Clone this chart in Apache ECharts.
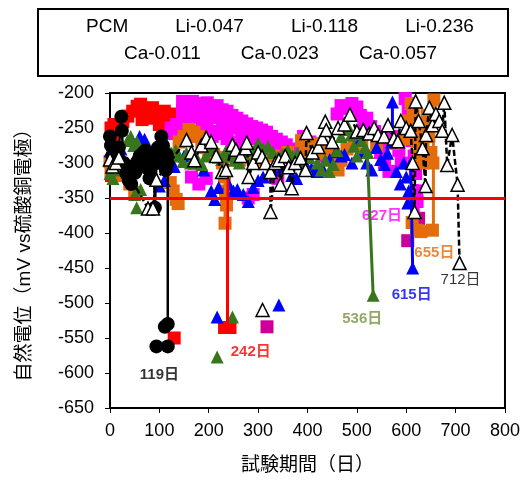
<!DOCTYPE html>
<html>
<head>
<meta charset="utf-8">
<script src="https://cdn.jsdelivr.net/npm/echarts@6.0.0/dist/echarts.min.js"></script>
<style>
  html, body { margin: 0; padding: 0; background: #fff; }
  #chart { width: 523px; height: 480px; }
</style>
</head>
<body>
<div id="chart"></div>
<script>
// [試験日数, 自然電位 mV]
var pcm = [[0,-262],[2,-275],[5,-290],[9,-300],[14,-285],[18,-278],[23,-234],[24,-254],[28,-300],[33,-315],[38,-325],[43,-330],[47,-305],[51,-314],[55,-298],[60,-290],[64,-300],[68,-285],[72,-282],[76,-308],[80,-322],[84,-300],[88,-292],[91,-364],[94,-300],[97,-278],[100,-290],[104,-262],[107,-275],[110,-298],[113,-310],[115,-288],[117,-300],[117,-530]];
var pcmOdd = [[111,-534],[94,-562],[117,-562]];

var li047 = [[2,-250],[4,-263],[3,-318],[8,-245],[16,-248],[26,-241],[36,-233],[46,-226],[55,-219],[62,-216],[65,-238],[70,-222],[78,-224],[80,-236],[86,-221],[94,-229],[100,-245],[102,-228],[110,-226],[115,-240],[118,-231],[125,-248],[126,-230],[131,-234],[130,-550],[232,-535],[243,-535]];
var li047Drop = [[238,-305],[238,-535]];

var li118 = [[124,-250],[124,-258],[135,-245],[147,-212],[147,-225],[147,-240],[157,-215],[157,-232],[157,-250],[167,-212],[167,-228],[167,-262],[177,-215],[177,-235],[177,-255],[187,-218],[187,-230],[187,-245],[197,-214],[197,-228],[197,-250],[207,-220],[207,-235],[207,-262],[217,-218],[217,-232],[217,-255],[227,-224],[227,-240],[227,-258],[237,-226],[237,-245],[237,-265],[247,-232],[247,-248],[247,-270],[257,-236],[257,-250],[257,-272],[267,-240],[267,-255],[267,-275],[277,-244],[277,-258],[287,-248],[287,-262],[297,-250],[297,-265],[307,-253],[307,-268],[317,-256],[317,-272],[327,-262],[327,-278],[337,-266],[337,-282],[347,-270],[347,-285],[357,-274],[357,-288],[367,-280],[367,-292],[377,-285],[165,-320],[180,-330],[195,-322],[280,-350],[290,-345],[330,-318],[340,-322],[392,-262],[405,-270],[418,-282],[430,-290],[460,-230],[468,-218],[478,-222],[490,-215],[500,-220],[507,-232],[514,-242],[520,-236],[528,-248],[536,-255],[545,-262],[548,-285],[556,-300],[565,-312],[560,-270],[574,-262],[585,-282],[590,-300],[598,-208],[604,-225],[608,-245],[612,-268],[616,-290],[619,-315],[621,-340],[622,-355]];
var li118Odd = [[318,-534],[603,-411],[625,-379]];
var li118Drop = [[622,-330],[625,-379]];

var li236 = [[0,-298],[2,-312],[4,-302],[12,-318],[40,-330],[50,-342],[122,-328],[128,-340],[134,-352],[138,-358],[140,-270],[150,-262],[160,-252],[170,-256],[178,-262],[186,-270],[194,-278],[200,-284],[210,-288],[220,-292],[228,-300],[232,-320],[234,-340],[236,-360],[233,-386],[250,-290],[262,-296],[275,-290],[300,-295],[330,-290],[360,-285],[388,-268],[396,-278],[404,-282],[412,-272],[420,-280],[428,-275],[436,-286],[448,-288],[455,-300],[462,-310],[468,-296],[480,-280],[495,-275],[510,-268],[540,-276],[575,-272],[595,-265],[605,-240],[610,-215],[614,-228],[618,-250],[622,-270],[626,-290],[630,-300],[634,-280],[638,-250],[642,-232],[646,-262],[650,-285],[654,-300],[656,-210],[612,-385],[621,-396],[630,-398],[653,-396]];
var li236Drop1 = [[233,-300],[233,-386]];
var li236Drop2 = [[655,-210],[655,-396]];

var ca011 = [[0,-283],[3,-292],[8,-300],[15,-288],[22,-280],[35,-300],[60,-262],[70,-266],[85,-295],[100,-333],[110,-325],[130,-305],[150,-290],[170,-300],[190,-310],[205,-340],[212,-352],[220,-335],[240,-330],[250,-340],[258,-338],[270,-345],[280,-355],[290,-335],[300,-325],[310,-320],[330,-310],[350,-305],[368,-318],[378,-322],[395,-300],[408,-308],[420,-312],[432,-310],[445,-295],[458,-284],[468,-290],[475,-288],[490,-300],[505,-268],[512,-285],[520,-300],[530,-310],[540,-278],[548,-295],[556,-302],[562,-286],[570,-270],[580,-312],[588,-330],[595,-300],[600,-320],[605,-340],[609,-300],[603,-357],[572,-213],[217,-520],[342,-503],[613,-450]];
var ca011Drop1 = [[572,-213],[572,-258]];
var ca011Drop2 = [[609,-300],[613,-450]];

var ca023 = [[0,-315],[3,-305],[6,-322],[12,-300],[20,-310],[28,-295],[36,-268],[42,-262],[48,-275],[55,-270],[50,-345],[54,-364],[62,-338],[70,-290],[80,-305],[92,-295],[100,-272],[108,-265],[116,-278],[125,-286],[133,-282],[140,-290],[148,-298],[155,-286],[163,-300],[170,-292],[178,-296],[186,-302],[194,-290],[202,-282],[210,-280],[218,-288],[226,-295],[234,-284],[242,-290],[252,-296],[262,-300],[272,-288],[282,-276],[292,-282],[300,-272],[310,-280],[320,-276],[330,-285],[340,-292],[350,-288],[360,-282],[370,-290],[380,-286],[388,-296],[396,-306],[404,-292],[412,-284],[420,-300],[428,-310],[436,-296],[444,-312],[452,-302],[460,-282],[468,-262],[476,-252],[482,-248],[488,-260],[494,-276],[500,-290],[505,-258],[510,-268],[516,-278],[522,-285],[217,-577],[248,-520],[533,-489]];
var ca023Drop = [[521,-285],[533,-489]];

var ca057 = [[0,-295],[5,-305],[12,-300],[18,-292],[77,-365],[87,-365],[94,-324],[155,-267],[165,-285],[171,-296],[185,-275],[195,-264],[205,-270],[215,-290],[227,-313],[235,-310],[248,-274],[255,-281],[265,-290],[275,-279],[277,-271],[281,-320],[290,-300],[300,-285],[308,-291],[315,-300],[325,-313],[325,-370],[335,-300],[342,-296],[345,-331],[355,-290],[362,-306],[368,-336],[375,-300],[386,-293],[396,-310],[398,-257],[410,-285],[422,-277],[430,-265],[436,-241],[438,-253],[450,-270],[462,-250],[475,-245],[486,-231],[500,-255],[513,-253],[525,-258],[535,-250],[543,-260],[555,-262],[563,-246],[575,-265],[583,-269],[589,-240],[600,-250],[609,-254],[613,-300],[617,-370],[619,-212],[625,-240],[633,-279],[639,-333],[640,-260],[647,-221],[653,-246],[660,-230],[667,-240],[673,-254],[677,-214],[683,-303],[693,-260],[704,-331],[708,-443]];
var ca057Odd = [[309,-510]];

var thresholdMv = -350;

var noteAt = [[100,-603],[285,-570],[551,-376],[657,-429],[710,-467],[611,-489],[511,-523]];
var noteText = ['119日','242日','627日','655日','712日','615日','536日'];

var xTicks = [0, 800, 100];
var yTicks = [-650, -200, 50];

var font = "'Liberation Sans', 'Noto Sans CJK JP', sans-serif";
var noteStyle = {
  '119日': ['#000000', 'bold'],
  '242日': ['#FF0000', 'bold'],
  '627日': ['#FF00FF', 'bold'],
  '655日': ['#E46C0A', 'bold'],
  '712日': ['#000000', 'normal'],
  '615日': ['#0000FF', 'bold'],
  '536日': ['#76923C', 'bold']
};

function dots(name, color, data, symbol, size) {
  return {
    name: name, type: 'scatter', silent: true,
    symbol: symbol, symbolSize: size,
    itemStyle: { color: color, opacity: 1 },
    data: data
  };
}
function drop(name, color, data, width) {
  return {
    name: name, type: 'line', silent: true, symbol: 'none',
    lineStyle: { color: color, width: width || 3 },
    data: data
  };
}

var dom = document.getElementById('chart');
var myChart = echarts.init(dom);

var notes = [];
for (var i = 0; i < noteAt.length; i++) {
  var st = noteStyle[noteText[i]];
  notes.push({
    name: noteText[i], value: noteAt[i],
    label: { color: st[0], fontWeight: st[1] }
  });
}

var option = {
  animation: false,
  backgroundColor: '#fff',
  textStyle: { fontFamily: font },
  graphic: [{
    type: 'rect', silent: true,
    shape: { x: 38, y: 9, width: 470, height: 67 },
    style: { fill: 'none', stroke: '#000', lineWidth: 2 }
  }],
  legend: [{
    data: ['PCM', 'Li-0.047', 'Li-0.118', 'Li-0.236'],
    left: 81, top: 17, padding: 0,
    icon: 'none', itemWidth: 0, itemHeight: 19, itemGap: 42,
    selectedMode: false,
    textStyle: { color: '#000', fontSize: 19, fontFamily: font }
  }, {
    data: ['Ca-0.011', 'Ca-0.023', 'Ca-0.057'],
    left: 119, top: 44, padding: 0,
    icon: 'none', itemWidth: 0, itemHeight: 19, itemGap: 35,
    selectedMode: false,
    textStyle: { color: '#000', fontSize: 19, fontFamily: font }
  }],
  grid: {
    left: 110, right: 15, top: 93, bottom: 72,
    show: true, borderColor: '#000', borderWidth: 2, backgroundColor: 'transparent'
  },
  xAxis: {
    type: 'value', min: xTicks[0], max: xTicks[1], interval: xTicks[2],
    name: '試験期間（日）', nameLocation: 'middle', nameGap: 48,
    nameTextStyle: { color: '#000', fontSize: 19, fontFamily: font },
    axisLine: { show: true, lineStyle: { color: '#000', width: 2 } },
    axisTick: { show: true, length: 5, lineStyle: { color: '#000', width: 1 } },
    axisLabel: { color: '#000', fontSize: 18, margin: 14, fontFamily: font },
    splitLine: { show: false }
  },
  yAxis: {
    type: 'value', min: yTicks[0], max: yTicks[1], interval: yTicks[2],
    name: '自然電位（mV vs硫酸銅電極）', nameLocation: 'middle', nameGap: 76,
    nameTextStyle: { color: '#000', fontSize: 19, fontFamily: font },
    axisLine: { show: true, lineStyle: { color: '#000', width: 2 } },
    axisTick: { show: true, length: 5, lineStyle: { color: '#000', width: 1 } },
    axisLabel: { color: '#000', fontSize: 18, margin: 16, fontFamily: font },
    splitLine: { show: false }
  },
  series: [
    dots('Li-0.047', '#FF0000', li047, 'rect', 13),
    drop('Li-0.047', '#FF0000', li047Drop, 3),
    dots('Li-0.118', '#FF00FF', li118, 'rect', 13),
    dots('Li-0.118', '#CC0099', li118Odd, 'rect', 13),
    drop('Li-0.118', '#FF00FF', li118Drop, 3),
    dots('Li-0.236', '#E46C0A', li236, 'rect', 13),
    drop('Li-0.236', '#E46C0A', li236Drop1, 3),
    drop('Li-0.236', '#E46C0A', li236Drop2, 3),
    dots('Ca-0.011', '#0000FF', ca011, 'triangle', 13),
    drop('Ca-0.011', '#0000FF', ca011Drop1, 3),
    drop('Ca-0.011', '#0000FF', ca011Drop2, 3),
    dots('Ca-0.023', '#38761D', ca023, 'triangle', 13),
    drop('Ca-0.023', '#38761D', ca023Drop, 3),
    {
      name: 'PCM', type: 'line', silent: true, data: pcm,
      symbol: 'circle', symbolSize: 14, showSymbol: true,
      itemStyle: { color: '#000' },
      lineStyle: { color: '#000', width: 2.5 }
    },
    dots('PCM', '#000', pcmOdd, 'circle', 14),
    {
      name: 'Ca-0.057', type: 'line', silent: true, data: ca057,
      symbol: 'triangle', symbolSize: 13, showSymbol: true,
      itemStyle: { color: '#fff', borderColor: '#000', borderWidth: 1.5 },
      lineStyle: { color: '#000', width: 2.5, type: [6, 3] }
    },
    {
      name: 'Ca-0.057', type: 'scatter', silent: true, data: ca057Odd,
      symbol: 'triangle', symbolSize: 13,
      itemStyle: { color: '#fff', borderColor: '#000', borderWidth: 1.5, opacity: 1 }
    },
    {
      name: 'threshold', type: 'line', silent: true, data: [],
      markLine: {
        silent: true, symbol: 'none', label: { show: false },
        lineStyle: { color: '#FF0000', width: 3, type: 'solid' },
        data: [{ yAxis: thresholdMv }]
      }
    },
    {
      name: 'notes', type: 'scatter', silent: true, symbolSize: 0,
      data: notes,
      label: { show: true, position: 'inside', formatter: '{b}', fontSize: 15, fontFamily: font }
    }
  ]
};

if (option && typeof option === 'object') {
  myChart.setOption(option, true);
}
</script>
</body>
</html>
